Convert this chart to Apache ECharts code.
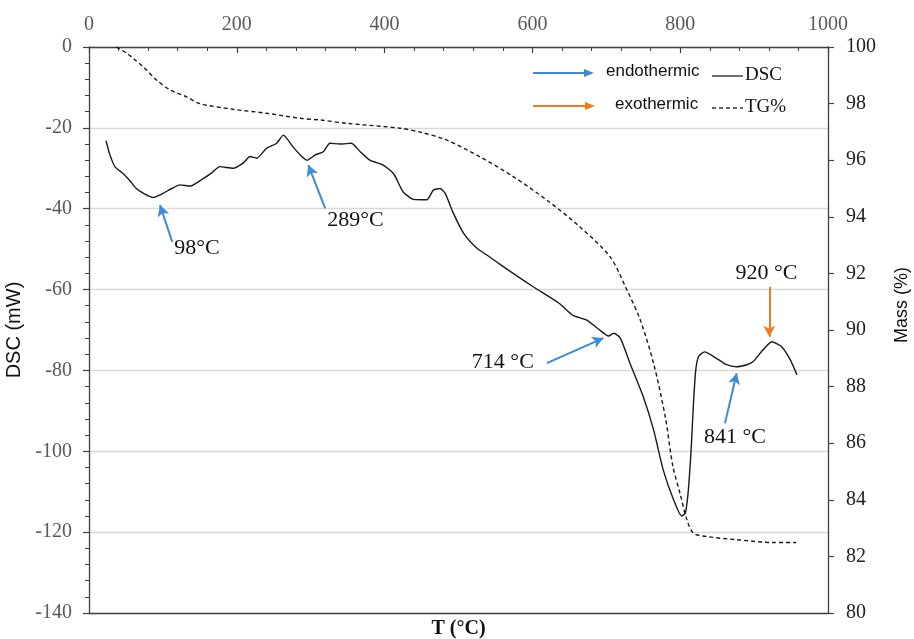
<!DOCTYPE html>
<html>
<head>
<meta charset="utf-8">
<script src="https://cdn.jsdelivr.net/npm/echarts@6/dist/echarts.min.js"></script>
<style>
  html, body { margin: 0; padding: 0; background: #fff; }
  #chart { width: 914px; height: 639px; }
</style>
</head>
<body>
<div id="chart"></div>
<script>
// DSC trace: temperature (°C) and heat flow (mW)
const dscTemp = [23, 28, 35, 46, 55, 64, 75, 87, 100, 112, 123, 137, 155, 167, 177, 195, 208, 218, 227, 240,
  254, 263, 276, 288, 295, 306, 317, 326, 340, 355, 367, 380, 398, 412, 425, 439, 457, 466, 475, 482,
  493, 507, 525, 538, 555, 574, 601, 637, 655, 673, 691, 703, 710, 719, 732, 750, 764, 777, 791, 802,
  807, 811, 815, 818, 821, 825, 833, 849, 862, 876, 890, 899, 912, 924, 937, 949, 958];
const dscValue = [-23.2, -26.5, -29.6, -31.3, -33.0, -35.0, -36.3, -37.2, -36.2, -35.0, -34.1, -34.4, -32.5, -31.0, -29.6, -30.0, -28.8, -27.1, -27.5, -25.1,
  -23.8, -21.8, -24.7, -27.1, -28.0, -26.7, -25.9, -23.8, -24.0, -23.8, -25.9, -28.0, -29.2, -31.3, -35.8, -37.7, -37.8, -35.4, -35.0, -36.2,
  -41.1, -46.1, -49.8, -51.4, -53.6, -56.0, -59.3, -63.5, -66.4, -67.5, -70.0, -71.5, -70.8, -72.0, -78.2, -86.5, -94.7, -104.6, -112.0, -116.0,
  -115.3, -109.6, -98.9, -88.0, -80.0, -76.5, -75.4, -77.0, -78.5, -79.1, -78.6, -77.8, -74.9, -72.9, -74.1, -77.4, -81.1];

// TG trace: temperature (°C) and remaining mass (%)
const tgTemp = [37, 51, 62, 73.5, 91.5, 110, 132, 150, 195, 240, 286, 313, 350, 421, 450, 484, 529, 574, 619, 664,
  705, 728, 746, 764, 780, 790, 800, 809, 818, 836, 881, 926, 957];
const tgMass = [100, 99.78, 99.55, 99.3, 98.83, 98.48, 98.24, 98.0, 97.8, 97.66, 97.48, 97.42, 97.3, 97.13, 96.98, 96.71, 96.12, 95.42, 94.6, 93.65,
  92.59, 91.41, 90.35, 88.82, 86.9, 85.2, 84.2, 83.3, 82.82, 82.7, 82.58, 82.49, 82.49];

// Peak temperatures called out on the DSC trace
const peakTemps = [98, 289, 714, 841, 920];
const peakKind = ['endo', 'endo', 'endo', 'endo', 'exo'];

// Axis ticks
const tempTicks = [0, 200, 400, 600, 800, 1000];
const dscTicks = [-140, -120, -100, -80, -60, -40, -20, 0];
const massTicks = [80, 82, 84, 86, 88, 90, 92, 94, 96, 98, 100];

// Callout layout in data units: arrow tail, arrow head, label centre
const calloutLayout = [
  { tail: [112.7, -48.2], head: [96, -39.1], label: [146, -49.7] },
  { tail: [319.6, -39.9], head: [296.8, -29.2], label: [360.6, -42.8] },
  { tail: [619.6, -78.2], head: [696, -72.0], label: [560, -77.9] },
  { tail: [860.6, -93.1], head: [876.4, -80.7], label: [874, -96.5] },
  { tail: [920.6, -59.3], head: [920.6, -71.7], label: [916.8, -55.9] }
];

const BLUE = '#3b8bd6';
const ORANGE = '#ef7a22';
const AXIS = '#404040';
const SERIF = '"Liberation Serif", "Times New Roman", serif';
const SANS = '"Liberation Sans", Arial, sans-serif';

const dscData = dscTemp.map((t, i) => [t, dscValue[i]]);
const tgData = tgTemp.map((t, i) => [t, tgMass[i]]);

const arrowLines = peakTemps.map((p, i) => {
  const c = calloutLayout[i];
  const col = peakKind[i] === 'exo' ? ORANGE : BLUE;
  return [
    { coord: c.tail, symbol: 'none', lineStyle: { color: col, width: 2, type: 'solid' } },
    { coord: c.head, symbol: 'arrow' }
  ];
});

const peakLabels = peakTemps.map((p, i) => ({
  coord: calloutLayout[i].label,
  value: p,
  label: {
    formatter: (i <= 1 ? p + '°C' : p + ' °C')
  }
}));

function legendArrow(x1, x2, y, color) {
  return {
    type: 'group',
    children: [
      { type: 'line', shape: { x1: x1, y1: y, x2: x2 - 8, y2: y }, style: { stroke: color, lineWidth: 2 } },
      { type: 'polygon', shape: { points: [[x2, y], [x2 - 10, y - 4], [x2 - 10, y + 4]] }, style: { fill: color } }
    ]
  };
}

const chart = echarts.init(document.getElementById('chart'), null, { renderer: 'canvas' });

chart.setOption({
  animation: false,
  backgroundColor: '#ffffff',
  grid: { left: 89, right: 86, top: 47, bottom: 26, containLabel: false, outerBoundsMode: 'none' },
  xAxis: [
    {
      type: 'value', position: 'top', min: tempTicks[0], max: tempTicks[tempTicks.length - 1], interval: 200,
      axisLine: { show: true, onZero: false, lineStyle: { color: AXIS, width: 1.3 } },
      axisTick: { show: true, inside: true, length: 6, lineStyle: { color: AXIS, width: 1.2 } },
      minorTick: { show: true, splitNumber: 5, length: 4, lineStyle: { color: AXIS, width: 1 } },
      axisLabel: { fontFamily: SERIF, fontSize: 20, color: '#595959', margin: 12, formatter: (v) => String(v) },
      splitLine: { show: false }
    },
    {
      type: 'value', position: 'bottom', min: 0, max: 1000,
      axisLine: { show: true, onZero: false, lineStyle: { color: AXIS, width: 1.3 } },
      axisTick: { show: false }, axisLabel: { show: false }, splitLine: { show: false },
      name: 'T (°C)', nameLocation: 'middle', nameGap: 6,
      nameTextStyle: { fontFamily: SERIF, fontWeight: 'bold', fontSize: 20, color: '#111' }
    }
  ],
  yAxis: [
    {
      type: 'value', position: 'left', min: dscTicks[0], max: dscTicks[dscTicks.length - 1], interval: 20,
      axisLine: { show: true, onZero: false, lineStyle: { color: AXIS, width: 1.3 } },
      axisTick: { show: true, inside: false, length: 6, lineStyle: { color: AXIS, width: 1.2 } },
      minorTick: { show: true, splitNumber: 5, length: 4, lineStyle: { color: AXIS, width: 1 } },
      axisLabel: { fontFamily: SERIF, fontSize: 20, color: '#595959', margin: 17 },
      splitLine: { show: true, lineStyle: { color: '#d9d9d9', width: 1.3 } },
      name: 'DSC (mW)', nameLocation: 'middle', nameGap: 62,
      nameTextStyle: { fontFamily: SANS, fontSize: 20, color: '#111' }
    },
    {
      type: 'value', position: 'right', min: massTicks[0], max: massTicks[massTicks.length - 1], interval: 2,
      axisLine: { show: true, onZero: false, lineStyle: { color: AXIS, width: 1.3 } },
      axisTick: { show: true, inside: false, length: 6, lineStyle: { color: AXIS, width: 1.2 } },
      axisLabel: { fontFamily: SERIF, fontSize: 20, color: '#222', margin: 18 },
      splitLine: { show: false },
      name: 'Mass (%)', nameLocation: 'middle', nameGap: 65,
      nameTextStyle: { fontFamily: SANS, fontSize: 18, color: '#111', padding: [0, 0, 0, 50] }
    }
  ],
  series: [
    {
      name: 'DSC', type: 'line', xAxisIndex: 0, yAxisIndex: 0, data: dscData,
      showSymbol: false, smooth: 0.2, silent: true,
      lineStyle: { color: '#1a1a1a', width: 1.4 },
      markLine: {
        silent: true, animation: false, symbolSize: [9, 11], precision: 2,
        label: { show: false },
        data: arrowLines
      },
      markPoint: {
        silent: true, symbol: 'circle', symbolSize: 1,
        itemStyle: { color: 'rgba(0,0,0,0)' },
        label: { show: true, position: 'inside', fontFamily: SERIF, fontSize: 22, color: '#111' },
        data: peakLabels
      },
      z: 3
    },
    {
      name: 'TG%', type: 'line', xAxisIndex: 0, yAxisIndex: 1, data: tgData,
      showSymbol: false, smooth: 0.3, silent: true,
      lineStyle: { color: '#1a1a1a', width: 1.4, type: [4, 3] },
      z: 2
    }
  ],
  graphic: [
    legendArrow(533, 594, 73, BLUE),
    legendArrow(533, 595, 106, ORANGE),
    { type: 'text', left: 606, top: 63, style: { text: 'endothermic', font: '17px ' + SANS, fill: '#111' } },
    { type: 'text', left: 615, top: 96, style: { text: 'exothermic', font: '17px ' + SANS, fill: '#111' } },
    { type: 'line', shape: { x1: 712, y1: 76, x2: 743, y2: 76 }, style: { stroke: '#333', lineWidth: 1.4 } },
    { type: 'line', shape: { x1: 712, y1: 108, x2: 743, y2: 108 }, style: { stroke: '#333', lineWidth: 1.4, lineDash: [4, 3] } },
    { type: 'text', left: 745, top: 66, style: { text: 'DSC', font: '19px ' + SERIF, fill: '#111' } },
    { type: 'text', left: 745, top: 98, style: { text: 'TG%', font: '19px ' + SERIF, fill: '#111' } }
  ]
});
</script>
</body>
</html>
